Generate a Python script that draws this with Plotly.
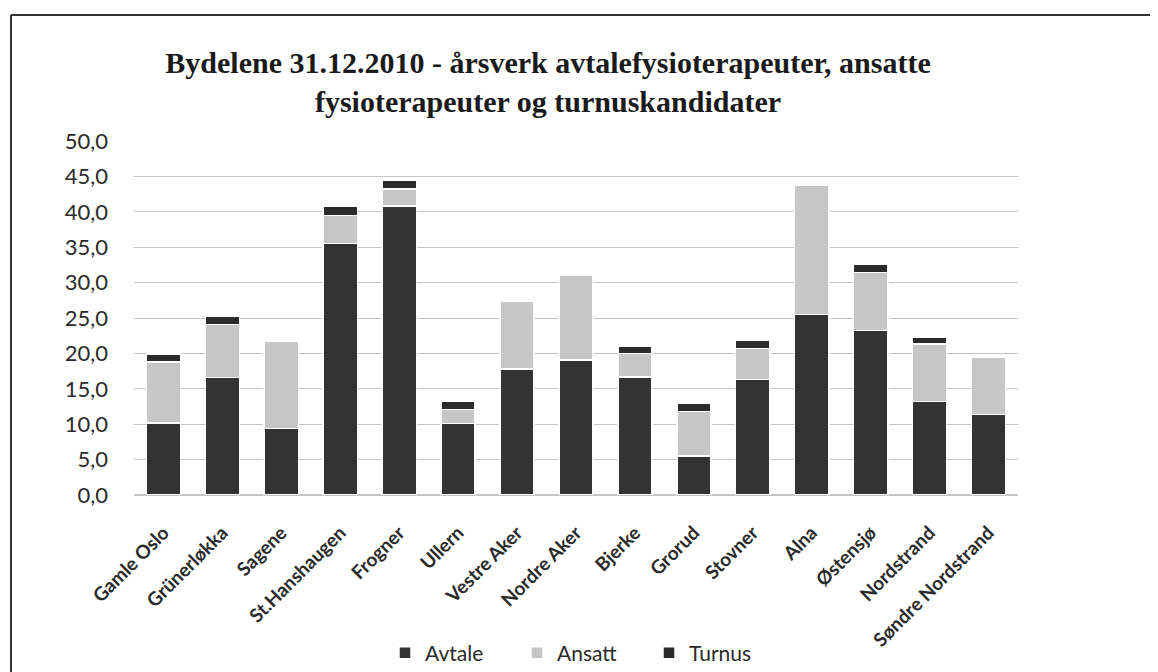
import plotly.graph_objects as go

# bydeler, årsverk 31.12.2010 (lest av figuren)
bydeler = ['Gamle Oslo', 'Grünerløkka', 'Sagene', 'St.Hanshaugen', 'Frogner', 'Ullern',
           'Vestre Aker', 'Nordre Aker', 'Bjerke', 'Grorud', 'Stovner', 'Alna',
           'Østensjø', 'Nordstrand', 'Søndre Nordstrand']
avtale = [10.2, 16.6, 9.4, 35.5, 40.8, 10.1, 17.8, 19.1, 16.7, 5.5, 16.3, 25.5, 23.2, 13.2, 11.4]
ansatt = [8.6, 7.5, 12.3, 4.0, 2.4, 2.0, 9.5, 11.9, 3.3, 6.3, 4.4, 18.3, 8.2, 8.1, 8.1]
turnus = [1.1, 1.2, 0, 1.3, 1.3, 1.2, 0, 0, 1.0, 1.2, 1.1, 0, 1.2, 1.0, 0]
y_ticks = [0, 5, 10, 15, 20, 25, 30, 35, 40, 45, 50]

W, H = 1158, 672
OFF = 8  # siden har 8 px marg rundt figuren
L, R, T, B = 126, 148, 133, 185
pw, ph = W - L - R, H - T - B

fig = go.Figure()
fig.add_trace(go.Bar(x=bydeler, y=avtale, name='Avtale',
                     marker=dict(color='#333333', line=dict(color='white', width=1.5))))
fig.add_trace(go.Bar(x=bydeler, y=ansatt, name='Ansatt',
                     marker=dict(color='#c6c6c6', line=dict(color='white', width=1.5))))
fig.add_trace(go.Bar(x=bydeler, y=turnus, name='Turnus',
                     marker=dict(color='#2b2b2b', line=dict(color='white', width=1.5))))


def px(x):
    # skjermpiksel -> paper-koordinat
    return (x - OFF - L) / pw


def py(y):
    return (H - B - (y - OFF)) / ph


# ramme (venstre og øvre kant)
fig.add_shape(type='line', xref='paper', yref='paper', x0=px(11), x1=px(11), y0=py(15), y1=py(H + OFF),
              line=dict(color='#333333', width=2))
fig.add_shape(type='line', xref='paper', yref='paper', x0=px(11), x1=px(W + OFF), y0=py(15), y1=py(15),
              line=dict(color='#333333', width=2))

fig.update_layout(
    barmode='stack',
    bargap=0.42,
    width=W, height=H,
    margin=dict(l=L, r=R, t=T, b=B, autoexpand=False),
    paper_bgcolor='white',
    plot_bgcolor='white',
    separators=', ',
    font=dict(family='Lato, Open Sans, sans-serif', color='#2a2a2a'),
    title=dict(
        text='Bydelene 31.12.2010 - årsverk avtalefysioterapeuter, ansatte<br>fysioterapeuter og turnuskandidater',
        x=(548 - OFF) / W, xanchor='center', xref='container',
        y=1 - 65 / H, yanchor='top', yref='container',
        font=dict(family='Liberation Serif, Times New Roman, serif', size=30, color='#1a1a1a', weight='bold'),
    ),
    legend=dict(orientation='h', x=px(583), xanchor='center', y=py(653), yanchor='middle',
                font=dict(size=21, color='#2a2a2a'), traceorder='normal',
                itemwidth=30, entrywidth=87),
    xaxis=dict(tickangle=-45, tickfont=dict(size=19, color='#2a2a2a', weight='bold'),
               showgrid=False, showline=False, ticks='', automargin=False,
               ticklabelstandoff=22),
    yaxis=dict(range=[0, 50], tickvals=y_ticks, tickformat='.1f',
               tickfont=dict(size=22, color='#2a2a2a'), automargin=False,
               showgrid=True, gridcolor='#c4c4c4', gridwidth=1, zeroline=True,
               zerolinecolor='#c4c4c4', ticks='', ticklabelstandoff=25),
)

fig.write_html('out.html')
